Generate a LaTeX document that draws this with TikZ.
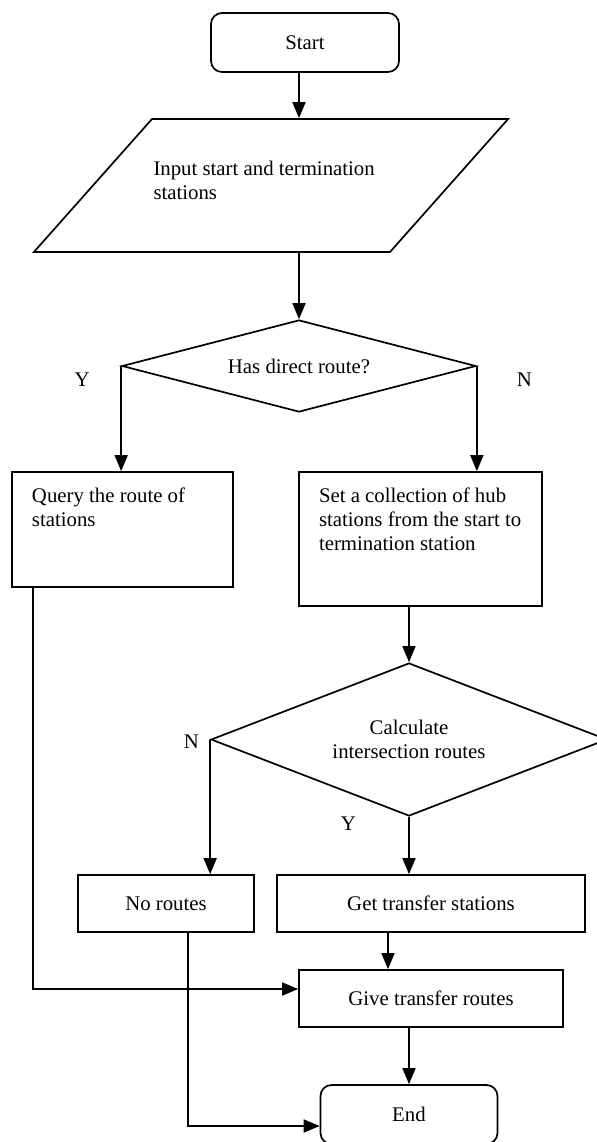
\documentclass[tikz,border=0pt]{standalone}
\usepackage{fontspec}
\setmainfont{Liberation Serif}
\usetikzlibrary{positioning,shapes.geometric,arrows.meta}

\begin{document}
\begin{tikzpicture}[x=0.5pt,y=-0.5pt,line width=0.85pt,
                    font=\fontsize{10.4}{12}\selectfont,
                    terminal/.style={draw,rectangle,rounded corners=5.5pt,
                                     minimum width=94pt,minimum height=29.5pt},
                    io/.style={draw,trapezium,trapezium left angle=48.4,
                               trapezium right angle=131.6,
                               inner xsep=0.75pt,inner ysep=0pt},
                    decision/.style={draw,diamond,inner sep=0pt,align=center},
                    process/.style={draw,rectangle,inner xsep=10pt,inner ysep=0pt},
                    flow/.style={-{Triangle[width=6.5pt,length=8pt]}}]
  \useasboundingbox (0,0) rectangle (597,1142);

  \node[terminal] (begin) at (305,42.5) {Start};
  \node[io] (input) at (271,185.5)
    {\parbox[c][66.5pt][t]{117.5pt}{\rule{0pt}{28.4pt}Input start and termination\\stations}};
  \node[decision,aspect=3.85,minimum width=177pt,minimum height=46pt] (dec1)
    at (299,366) {Has direct route?};
  \node[process] (query) at (122.5,529.5)
    {\parbox[c][57.5pt][t]{90.5pt}{\rule{0pt}{15.3pt}Query the route of\\stations}};
  \node[process] (set) at (420.5,539)
    {\parbox[c][67pt][t]{101.5pt}{\rule{0pt}{15.3pt}Set a collection of hub\\stations from the start to\\termination station}};
  \node[decision,aspect=2.59,minimum width=198pt,minimum height=76.5pt] (dec2)
    at (409,739.5) {Calculate\\intersection routes};
  \node[process,minimum width=88pt,minimum height=28.5pt] (noroutes)
    at (166,903.5) {No routes};
  \node[process,minimum width=154pt,minimum height=28.5pt] (get)
    at (431,903.5) {Get transfer stations};
  \node[process,minimum width=132pt,minimum height=28.5pt] (give)
    at (431,998.5) {Give transfer routes};
  \node[terminal,minimum width=88.5pt] (finish) at (409,1114.5) {End};

  % Branch labels
  \node (y1) at ([xshift=-19.5pt,yshift=-7pt]dec1.west) {Y};
  \node (n1) at ([xshift=23.8pt,yshift=-7pt]dec1.east) {N};
  \node (n2) at ([xshift=-9.4pt,yshift=-1.3pt]dec2.west) {N};
  \node (y2) at ([xshift=-30.3pt,yshift=-3.6pt]dec2.south) {Y};

  \draw[flow] (begin.south -| dec1.north) -- (input.north -| dec1.north);
  \draw[flow] (input.south -| dec1.north) -- (dec1.north);
  \draw[flow] (dec1.west) -- (dec1.west |- query.north);
  \draw[flow] (dec1.east) -- (dec1.east |- set.north);
  \draw[flow] (set.south -| dec2.north) -- (dec2.north);
  \draw[flow] (dec2.west) -- (dec2.west |- noroutes.north);
  \draw[flow] (dec2.south) -- (dec2.south |- get.north);
  \draw[flow] ([xshift=-21.5pt]get.south) -- ([xshift=-21.5pt]get.south |- give.north);
  \draw[flow] (finish.north |- give.south) -- (finish.north);

  % Merging lines
  \draw[flow] ([xshift=11pt]query.south west) |- ([yshift=4.75pt]give.west);
  \draw[flow] ([xshift=11pt]noroutes.south) |- ([yshift=-5.75pt]finish.west);
\end{tikzpicture}
\end{document}
